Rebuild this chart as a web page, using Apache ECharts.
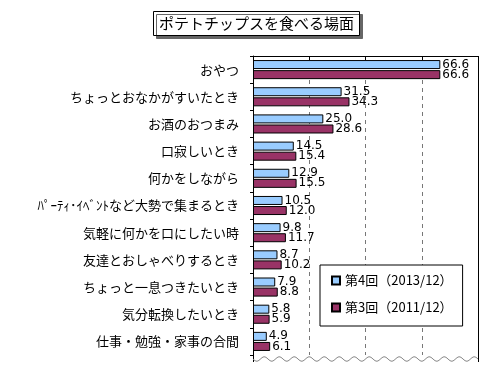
<!DOCTYPE html>
<html><head><meta charset="utf-8">
<script src="https://cdn.jsdelivr.net/npm/echarts@6/dist/echarts.min.js"></script>
<style>html,body{margin:0;padding:0;background:#fff}#c{width:500px;height:375px}</style>
</head><body><div id="c"></div>
<script>
const categories = ['おやつ','ちょっとおなかがすいたとき','お酒のおつまみ','口寂しいとき','何かをしながら','ﾊﾟｰﾃｨ･ｲﾍﾞﾝﾄなど大勢で集まるとき','気軽に何かを口にしたい時','友達とおしゃべりするとき','ちょっと一息つきたいとき','気分転換したいとき','仕事・勉強・家事の合間'];
const series4 = [66.6,31.5,25.0,14.5,12.9,10.5,9.8,8.7,7.9,5.8,4.9];
const series3 = [66.6,34.3,28.6,15.4,15.5,12.0,11.7,10.2,8.8,5.9,6.1];
const name4 = '第4回（2013/12）';
const name3 = '第3回（2011/12）';
const chartTitle = 'ポテトチップスを食べる場面';

(function(){
const chart = echarts.init(document.getElementById('c'), null, {renderer:'canvas'});
const jp = '"Noto Sans CJK JP", sans-serif';
const lbl = {show:true, position:'right', distance:2, color:'#000', fontSize:12, fontFamily:'"DejaVu Sans", sans-serif', formatter: p => p.value.toFixed(1)};
chart.setOption({
  backgroundColor:'#fff',
  animation:false,
  title:{text:chartTitle, left:153, top:11, padding:[5,6,5,6], backgroundColor:'#fff', borderColor:'#000', borderWidth:1,
    shadowColor:'#666', shadowOffsetX:3, shadowOffsetY:3, shadowBlur:0,
    textStyle:{fontFamily:jp, fontSize:15, fontWeight:'normal', color:'#000'}},
  legend:{orient:'vertical', left:320, top:265, padding:[9,10,12,11], itemGap:14, itemWidth:8, itemHeight:8,
    backgroundColor:'#fff', borderColor:'#000', borderWidth:1, icon:'rect',
    textStyle:{fontFamily:jp, fontSize:13, color:'#000'}, data:[name4, name3]},
  grid:{left:253, top:56, width:225, height:299},
  xAxis:{type:'value', position:'top', min:0, max:80, interval:20,
    axisLine:{show:true, lineStyle:{color:'#000', width:1}},
    axisTick:{show:true, inside:true, length:4, lineStyle:{color:'#000'}},
    axisLabel:{show:false},
    splitLine:{show:true, lineStyle:{color:'#777', type:[4,4], width:1}}},
  yAxis:{type:'category', inverse:true, data:categories,
    axisLine:{show:true, lineStyle:{color:'#000', width:1}},
    axisTick:{show:true, length:3, lineStyle:{color:'#000'}},
    axisLabel:{color:'#000', fontFamily:jp, fontSize:13, margin:14}},
  series:[
    {name:name4, type:'bar', data:series4, barWidth:9, barGap:'12%',
      itemStyle:{color:'#99CCFF', borderColor:'#000', borderWidth:1}, label:lbl},
    {name:name3, type:'bar', data:series3, barWidth:9,
      itemStyle:{color:'#993366', borderColor:'#000', borderWidth:1}, label:lbl}
  ]
});

const p0 = chart.convertToPixel({gridIndex:0}, [0, 0]);
const pR = chart.convertToPixel({gridIndex:0}, [80, 0]);
const x0 = p0[0], x1 = pR[0];
const yTop = 56, yBot = 362;
const wave = [];
for (let x = x0; x <= x1; x += 1) {
  wave.push([x, yBot - 3 + 2.2*Math.sin((x - x0) / 15 * 2 * Math.PI)]);
}
chart.setOption({graphic:[
  {type:'rect', shape:{x:x0+1, y:355.5, width:x1-x0-1, height:4}, style:{fill:'#fff'}, silent:true, z:100},
  {type:'line', shape:{x1:x0+0.5, y1:yTop, x2:x0+0.5, y2:yBot}, style:{stroke:'#000', lineWidth:1}, z:101},
  {type:'line', shape:{x1:x1+0.5, y1:yTop, x2:x1+0.5, y2:yBot}, style:{stroke:'#000', lineWidth:1}, z:101},
  {type:'polyline', shape:{points:wave}, style:{stroke:'#888', fill:null, lineWidth:1}, z:101}
]});
})();
</script></body></html>
